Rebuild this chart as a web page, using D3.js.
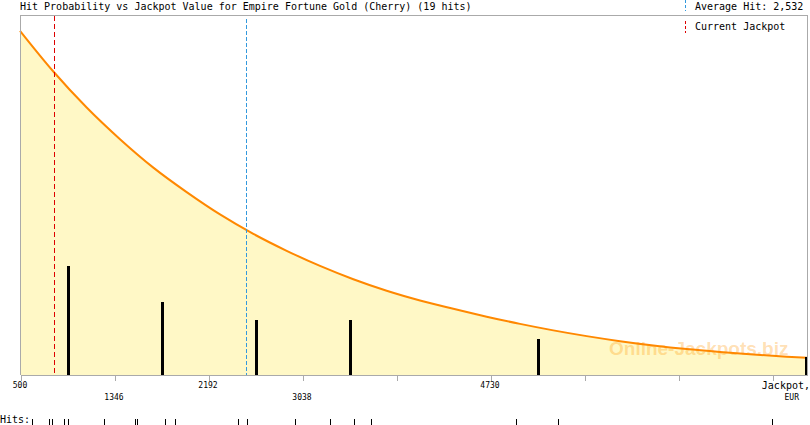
<!DOCTYPE html>
<html><head><meta charset="utf-8">
<script src="https://cdn.jsdelivr.net/npm/d3@7"></script>
<style>
html,body{margin:0;padding:0;background:#fff;}
svg{display:block;}
text{font-family:"DejaVu Sans Mono",monospace;}
</style></head>
<body>
<svg id="c" width="810" height="425"></svg>
<script>
// ---- data ----
const title = "Hit Probability vs Jackpot Value for Empire Fortune Gold (Cherry) (19 hits)";
const hits = [608, 761, 788, 896, 932, 1256, 1535, 1553, 1805, 1895, 2462, 2543, 2975, 3290, 3506, 3659, 4964, 5342, 7268];
const averageHit = 2532;
const currentJackpot = 810;
const curveJackpot = [500, 800, 1100, 1400, 1700, 2000, 2300, 2600, 2900, 3200, 3500, 3800, 4100, 4400, 4700, 5000, 5300, 5600, 5900, 6200, 6500, 6800, 7100, 7400, 7583];
const curveProb = [0.956, 0.843, 0.743, 0.655, 0.576, 0.508, 0.446, 0.392, 0.345, 0.303, 0.266, 0.234, 0.207, 0.184, 0.162, 0.142, 0.124, 0.108, 0.094, 0.082, 0.072, 0.064, 0.057, 0.051, 0.048];
const tickValues = [500, 1346, 2192, 3038, 3884, 4730, 5576, 6422, 7268];
const tickLabels = ["500", "1346", "2192", "3038", "", "4730", "", "", ""];
const tickRows = [0, 1, 0, 1, 0, 0, 0, 0, 0];
const legendLabels = ["Average Hit: 2,532", "Current Jackpot"];

// ---- layout ----
const L = 20, R = 807, T = 15, B = 375;
const svg = d3.select("#c");
const x = d3.scaleLinear().domain([500, 7583]).range([L, R]);
const y = d3.scaleLinear().domain([0, 1]).range([B, T]);
const yCount = d3.scaleLinear().domain([0, 19.8]).range([B, T]);

// area + curve
const area = d3.area().x((d, i) => x(curveJackpot[i])).y0(B).y1(d => y(d)).curve(d3.curveMonotoneX);
const line = d3.line().x((d, i) => x(curveJackpot[i])).y(d => y(d)).curve(d3.curveMonotoneX);
svg.append("path").datum(curveProb).attr("d", area).attr("fill", "#fff8c6");

// watermark
svg.append("text").attr("x", 609).attr("y", 355)
  .style("font-family", "'Liberation Sans',Arial,sans-serif").style("font-weight", "bold")
  .style("font-size", "19px").attr("fill", "#ff9500").attr("fill-opacity", 0.3)
  .text("Online-Jackpots.biz");

svg.append("path").datum(curveProb).attr("d", line)
  .attr("fill", "none").attr("stroke", "#ff8800").attr("stroke-width", 2);

// dashed reference lines
svg.append("line").attr("x1", Math.round(x(currentJackpot)) + 0.5).attr("x2", Math.round(x(currentJackpot)) + 0.5)
  .attr("y1", T + 1).attr("y2", B).attr("stroke", "#dd0000").attr("stroke-dasharray", "5,3");
svg.append("line").attr("x1", Math.round(x(averageHit)) + 0.5).attr("x2", Math.round(x(averageHit)) + 0.5)
  .attr("y1", T + 4).attr("y2", B).attr("stroke", "#3399dd").attr("stroke-dasharray", "4,2");

// histogram bars
const bins = d3.bin().domain([500, 8114]).thresholds(tickValues.slice(1))(hits);
svg.append("g").attr("shape-rendering", "crispEdges").selectAll("rect")
  .data(bins.filter(b => b.length > 0)).join("rect")
  .attr("x", d => Math.min(Math.round(x(d.x0)) + 47, R - 2))
  .attr("width", 3)
  .attr("y", d => Math.round(yCount(d.length)))
  .attr("height", d => B - Math.round(yCount(d.length)))
  .attr("fill", "#000");

// frame
const frame = svg.append("g").attr("shape-rendering", "crispEdges").attr("stroke", "#aaaaaa").attr("fill", "none");
frame.append("path").attr("d", `M${L + 0.5},${B}V${T + 0.5}H${R + 0.5}V${B}`);

// axis
const axis = d3.axisBottom(x).tickValues(tickValues).tickSize(5).tickSizeOuter(0).tickFormat("");
const ag = svg.append("g").attr("transform", `translate(0.5,${B + 0.5})`).attr("shape-rendering", "crispEdges").call(axis);
ag.select(".domain").attr("stroke", "#aaaaaa").attr("d", `M${L},0H${R + 0.5}`);
ag.selectAll(".tick line").attr("stroke", "#aaaaaa");

svg.append("g").selectAll("text").data(tickValues).join("text")
  .attr("x", d => x(d)).attr("y", (d, i) => tickRows[i] ? 400 : 388)
  .attr("text-anchor", "middle").style("font-size", "8px").attr("fill", "#000")
  .text((d, i) => tickLabels[i]);
svg.append("text").attr("x", 810).attr("y", 389).attr("text-anchor", "end")
  .style("font-size", "10px").text("Jackpot,");
svg.append("text").attr("x", 799).attr("y", 400).attr("text-anchor", "end")
  .style("font-size", "8px").text("EUR");

// title
svg.append("text").attr("x", 20).attr("y", 10).style("font-size", "10px").text(title);

// legend
svg.append("line").attr("x1", 685.5).attr("x2", 685.5).attr("y1", 0).attr("y2", 11)
  .attr("stroke", "#3399dd").attr("stroke-dasharray", "3,2");
svg.append("line").attr("x1", 685.5).attr("x2", 685.5).attr("y1", 21).attr("y2", 33)
  .attr("stroke", "#dd0000").attr("stroke-dasharray", "3,2");
svg.append("text").attr("x", 695).attr("y", 10).style("font-size", "10px").text(legendLabels[0]);
svg.append("text").attr("x", 695).attr("y", 30).style("font-size", "10px").text(legendLabels[1]);

// hits row
svg.append("text").attr("x", 0).attr("y", 423).style("font-size", "10px").text("Hits:");
svg.append("g").attr("shape-rendering", "crispEdges").selectAll("line").data(hits).join("line")
  .attr("x1", d => Math.round(x(d)) + 0.5).attr("x2", d => Math.round(x(d)) + 0.5)
  .attr("y1", 419).attr("y2", 425).attr("stroke", "#000");
</script>
</body></html>
